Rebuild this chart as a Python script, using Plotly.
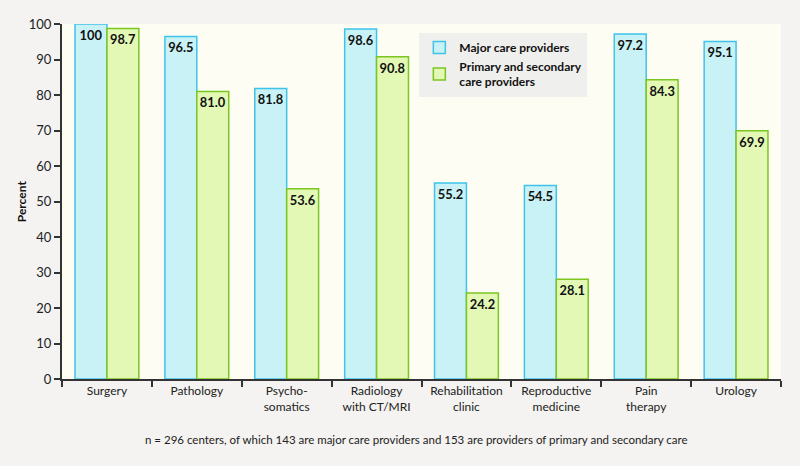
import plotly.graph_objects as go

categories = ["Surgery", "Pathology", "Psycho-<br>somatics", "Radiology<br>with CT/MRI",
              "Rehabilitation<br>clinic", "Reproductive<br>medicine", "Pain<br>therapy", "Urology"]
major = [100, 96.5, 81.8, 98.6, 55.2, 54.5, 97.2, 95.1]
major_labels = ["100", "96.5", "81.8", "98.6", "55.2", "54.5", "97.2", "95.1"]
primary = [98.7, 81.0, 53.6, 90.8, 24.2, 28.1, 84.3, 69.9]
primary_labels = ["98.7", "81.0", "53.6", "90.8", "24.2", "28.1", "84.3", "69.9"]
y_ticks = list(range(0, 101, 10))

FONT = "Lato"

fig = go.Figure()
fig.add_trace(go.Bar(
    x=categories, y=major, name="Major care providers",
    text=major_labels, textposition="inside", insidetextanchor="end", textangle=0,
    textfont=dict(family=FONT, size=13, color="#111111", weight="bold"),
    marker=dict(color="#c8f2f5", line=dict(color="#3ec3ea", width=1.5)),
))
fig.add_trace(go.Bar(
    x=categories, y=primary, name="Primary and secondary<br>care providers",
    text=primary_labels, textposition="inside", insidetextanchor="end", textangle=0,
    textfont=dict(family=FONT, size=13, color="#111111", weight="bold"),
    marker=dict(color="#e2f8b4", line=dict(color="#7cc620", width=1.5)),
))

fig.update_layout(
    width=800, height=466,
    margin=dict(l=62, r=19, t=24, b=87),
    paper_bgcolor="#f4f3f1",
    plot_bgcolor="#fdfdf4",
    barmode="group", bargap=0.29, bargroupgap=0,
    font=dict(family=FONT, size=12, color="#222222"),
    showlegend=True,
    uniformtext=dict(minsize=8, mode="show"),
    legend=dict(
        x=0.497, y=0.975, xanchor="left", yanchor="top",
        bgcolor="#efefed", borderwidth=0,
        font=dict(family=FONT, size=12, color="#111111", weight="bold"),
        tracegroupgap=2, itemwidth=30,
    ),
    annotations=[
        dict(
            text="n = 296 centers, of which 143 are major care providers and 153 are providers of primary and secondary care",
            xref="paper", yref="paper", x=0.492, y=-0.147, xanchor="center", yanchor="top",
            showarrow=False, font=dict(family=FONT, size=11.5, color="#222222"),
        ),
        dict(
            text="Percent", textangle=-90,
            xref="paper", yref="paper", x=-0.056, y=0.5, xanchor="center", yanchor="middle",
            showarrow=False, font=dict(family=FONT, size=12, color="#111111", weight="bold"),
        ),
    ],
)
fig.update_xaxes(
    automargin=False,
    showline=True, linecolor="#333333", linewidth=2,
    ticks="outside", tickson="boundaries", ticklen=6, tickwidth=2, tickcolor="#333333",
    tickfont=dict(family=FONT, size=12, color="#222222"),
    showgrid=False,
)
fig.update_yaxes(
    automargin=False,
    range=[0, 100], tickvals=y_ticks,
    showline=True, linecolor="#333333", linewidth=2,
    ticks="outside", ticklen=6, tickwidth=1.5, tickcolor="#333333",
    tickfont=dict(family=FONT, size=13, color="#222222"),
    showgrid=False, zeroline=False,
)

fig.write_html("out.html", config={"displayModeBar": False},
               post_script="document.body.style.margin='0';document.body.style.overflow='hidden';")
